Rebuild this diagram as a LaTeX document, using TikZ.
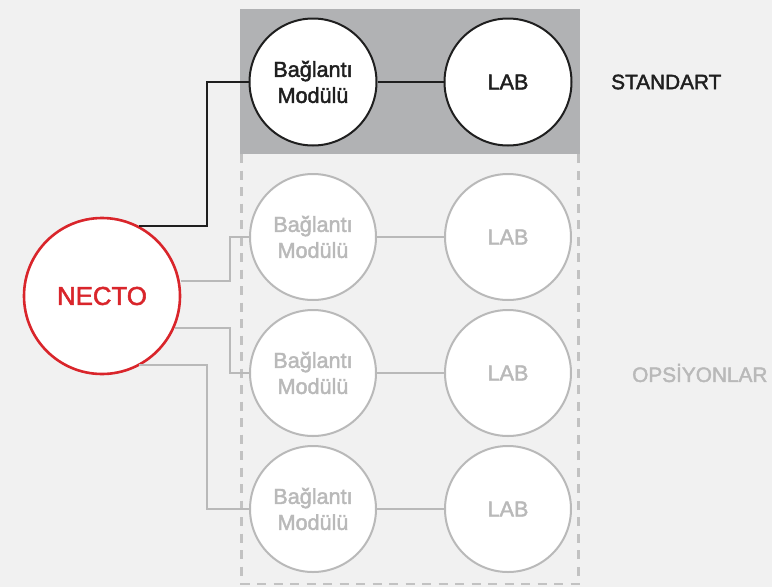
\documentclass[tikz,border=0pt]{standalone}
\usepackage{fontspec}
\setmainfont{Liberation Sans}
\newfontfamily\medfont[FakeBold=2]{Liberation Sans}
\definecolor{bg}{HTML}{F1F1F1}
\definecolor{band}{HTML}{B1B2B4}
\definecolor{lgray}{HTML}{B9B9B9}
\definecolor{dashc}{HTML}{C2C2C2}
\definecolor{dk}{HTML}{1F1F1F}
\definecolor{nred}{HTML}{D9252B}
\tikzset{
 x=1pt,y=-1pt,
 opt/.style={circle,draw=lgray,line width=2pt,fill=white,minimum size=126pt,inner sep=0pt,align=center,text=lgray,font=\medfont\fontsize{21.6}{26}\selectfont},
 std/.style={circle,draw=dk,line width=2pt,fill=white,minimum size=127pt,inner sep=0pt,align=center,text=dk,font=\medfont\fontsize{21.6}{26}\selectfont},
 optline/.style={draw=lgray,line width=2pt},
 stdline/.style={draw=dk,line width=2pt},
 lab/.style={font=\medfont\fontsize{20.8}{24}\selectfont,inner sep=0pt},
}
\begin{document}
\begin{tikzpicture}
\useasboundingbox (0,0) rectangle (772,587);
\fill[bg] (0,0) rectangle (772,587);
\fill[band] (240,9) rectangle (580,154);
\draw[dashc,line width=2.6pt,dash pattern=on 9pt off 7.5pt] (241.5,154) -- (241.5,584) -- (578.5,584) -- (578.5,154);
\node[std] (m0) at (313,82) {Bağlantı\\Modülü};
\node[std] (l0) at (508,82) {LAB};
\node[opt] (m1) at (313,237) {Bağlantı\\Modülü};
\node[opt] (l1) at (508,237) {LAB};
\node[opt] (m2) at (313,373) {Bağlantı\\Modülü};
\node[opt] (l2) at (508,373) {LAB};
\node[opt] (m3) at (313,509) {Bağlantı\\Modülü};
\node[opt] (l3) at (508,509) {LAB};
\node[circle,draw=nred,line width=2.6pt,fill=white,minimum size=156pt,inner sep=0pt,text=nred,font=\medfont\fontsize{25.8}{30}\selectfont] (n) at (102,296) {NECTO};
\coordinate (a0) at (139,226);
\coordinate (a1) at (181,281);
\coordinate (a2) at (175,328);
\coordinate (a3) at (139,365);
\draw[stdline] (m0) -- (l0);
\draw[optline] (m1) -- (l1);
\draw[optline] (m2) -- (l2);
\draw[optline] (m3) -- (l3);
\draw[stdline] (a0) -| (207,82) -- (m0);
\draw[optline] (a1) -| (230,237) -- (m1);
\draw[optline] (a2) -| (230,373) -- (m2);
\draw[optline] (a3) -| (207,509) -- (m3);
\node[lab,anchor=west,text=dk] (t1) at (611,82) {STANDART};
\node[lab,anchor=west,text=lgray] (t2) at (632,373) {OPSİYONLAR};
\end{tikzpicture}
\end{document}
